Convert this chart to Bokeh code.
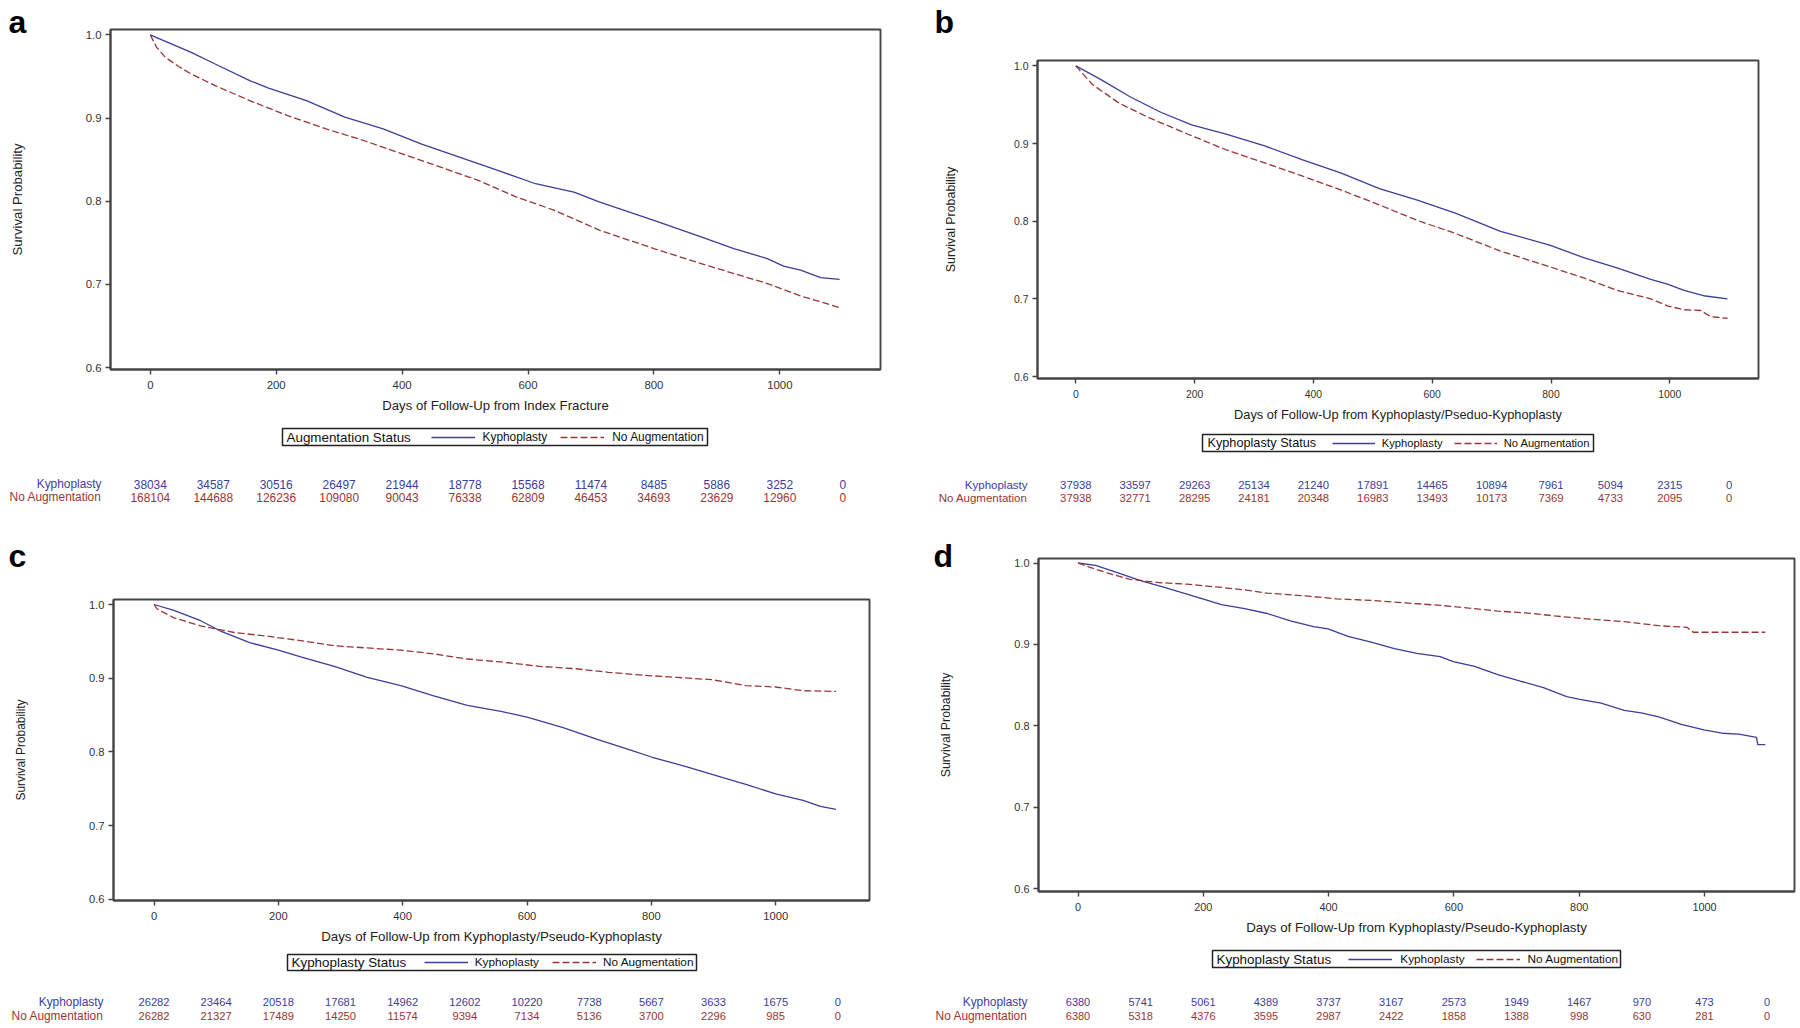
import os
import math
from bokeh.plotting import figure
from bokeh.models import (Range1d, FixedTicker, PrintfTickFormatter, Legend, LegendItem)
from bokeh.layouts import row, column
from bokeh.embed import file_html
from bokeh.resources import INLINE
from bokeh.core.properties import value

# ---------------- data ----------------
x_ticks = [0, 200, 400, 600, 800, 1000]
y_ticks = [0.6, 0.7, 0.8, 0.9, 1.0]
risk_days = [0, 100, 200, 300, 400, 500, 600, 700, 800, 900, 1000, 1100]
series_names = ["Kyphoplasty", "No Augmentation"]
y_label = "Survival Probability"

# Panel a
a_kyph_days = [0, 25, 65, 103, 158, 188, 248, 309, 370, 430, 491, 552, 612, 673, 714, 800, 875, 927, 980, 1006, 1033, 1065, 1095]
a_kyph_surv = [1.0, 0.992, 0.979, 0.965, 0.945, 0.936, 0.921, 0.901, 0.887, 0.869, 0.853, 0.837, 0.821, 0.811, 0.799, 0.777, 0.757, 0.743, 0.731, 0.722, 0.717, 0.708, 0.706]
a_noaug_days = [0, 10, 24, 45, 65, 103, 158, 218, 279, 339, 400, 461, 521, 582, 642, 714, 800, 875, 927, 980, 1033, 1065, 1095]
a_noaug_surv = [1.0, 0.985, 0.973, 0.962, 0.953, 0.939, 0.921, 0.903, 0.887, 0.873, 0.857, 0.841, 0.825, 0.805, 0.789, 0.765, 0.743, 0.725, 0.713, 0.701, 0.686, 0.679, 0.672]
a_risk_kyph = [38034, 34587, 30516, 26497, 21944, 18778, 15568, 11474, 8485, 5886, 3252, 0]
a_risk_noaug = [168104, 144688, 126236, 109080, 90043, 76338, 62809, 46453, 34693, 23629, 12960, 0]

# Panel b
b_kyph_days = [0, 41, 92, 144, 195, 253, 318, 382, 447, 511, 575, 640, 715, 799, 855, 911, 968, 996, 1024, 1057, 1097]
b_kyph_surv = [1.0, 0.983, 0.960, 0.940, 0.924, 0.912, 0.897, 0.879, 0.862, 0.842, 0.827, 0.810, 0.787, 0.769, 0.753, 0.740, 0.725, 0.719, 0.711, 0.704, 0.700]
b_noaug_days = [0, 28, 73, 124, 189, 253, 318, 382, 447, 511, 575, 640, 715, 799, 855, 911, 968, 996, 1024, 1052, 1069, 1097]
b_noaug_surv = [1.0, 0.976, 0.952, 0.933, 0.912, 0.892, 0.875, 0.858, 0.840, 0.821, 0.801, 0.784, 0.7615, 0.741, 0.727, 0.711, 0.700, 0.691, 0.686, 0.685, 0.677, 0.675]
b_risk_kyph = [37938, 33597, 29263, 25134, 21240, 17891, 14465, 10894, 7961, 5094, 2315, 0]
b_risk_noaug = [37938, 32771, 28295, 24181, 20348, 16983, 13493, 10173, 7369, 4733, 2095, 0]

# Panel c
c_kyph_days = [0, 32, 75, 107, 155, 200, 236, 290, 343, 397, 450, 504, 558, 600, 658, 713, 768, 800, 860, 915, 952, 1000, 1044, 1072, 1097]
c_kyph_surv = [1.0, 0.992, 0.978, 0.964, 0.948, 0.938, 0.929, 0.916, 0.901, 0.890, 0.876, 0.863, 0.855, 0.847, 0.833, 0.817, 0.802, 0.793, 0.779, 0.765, 0.756, 0.743, 0.734, 0.726, 0.722]
c_noaug_days = [0, 5, 32, 75, 129, 182, 236, 290, 343, 397, 450, 504, 558, 621, 676, 731, 787, 842, 897, 952, 1000, 1044, 1097]
c_noaug_surv = [1.0, 0.994, 0.982, 0.971, 0.962, 0.957, 0.951, 0.944, 0.941, 0.938, 0.933, 0.926, 0.922, 0.916, 0.913, 0.908, 0.904, 0.901, 0.898, 0.890, 0.888, 0.883, 0.882]
c_risk_kyph = [26282, 23464, 20518, 17681, 14962, 12602, 10220, 7738, 5667, 3633, 1675, 0]
c_risk_noaug = [26282, 21327, 17489, 14250, 11574, 9394, 7134, 5136, 3700, 2296, 985, 0]

# Panel d
d_kyph_days = [0, 28, 64, 101, 138, 199, 229, 266, 302, 339, 376, 399, 431, 468, 505, 541, 578, 599, 633, 670, 706, 743, 780, 799, 835, 872, 899, 927, 963, 999, 1028, 1055, 1083, 1085, 1097]
d_kyph_surv = [1.0, 0.997, 0.988, 0.978, 0.970, 0.956, 0.949, 0.944, 0.938, 0.929, 0.922, 0.919, 0.910, 0.903, 0.895, 0.889, 0.885, 0.879, 0.873, 0.863, 0.855, 0.847, 0.836, 0.833, 0.828, 0.819, 0.816, 0.811, 0.802, 0.795, 0.791, 0.790, 0.786, 0.777, 0.777]
d_noaug_days = [0, 18, 46, 83, 129, 174, 229, 266, 302, 358, 413, 468, 523, 578, 633, 670, 725, 761, 817, 872, 927, 972, 982, 1097]
d_noaug_surv = [1.0, 0.995, 0.988, 0.980, 0.976, 0.974, 0.970, 0.967, 0.963, 0.960, 0.956, 0.954, 0.951, 0.948, 0.944, 0.941, 0.938, 0.935, 0.931, 0.928, 0.923, 0.921, 0.915, 0.915]
d_risk_kyph = [6380, 5741, 5061, 4389, 3737, 3167, 2573, 1949, 1467, 970, 473, 0]
d_risk_noaug = [6380, 5318, 4376, 3595, 2987, 2422, 1858, 1388, 998, 630, 281, 0]

# ---------------- style ----------------
BLUE = "#3d3d9b"
RED = "#9a3535"
AX = "#444444"
TXT = "#222222"
DASH = "7 3"


def _has_font(part):
    for d in ["/usr/share/fonts", "/usr/local/share/fonts",
              os.path.expanduser("~/.fonts"), os.path.expanduser("~/.local/share/fonts")]:
        if not os.path.isdir(d):
            continue
        for _, _, files in os.walk(d):
            for f in files:
                if part in f.lower().replace(" ", "").replace("-", "").replace("_", ""):
                    return True
    return False


if _has_font("liberationsansnarrow"):
    F, K = "Liberation Sans Narrow", 1.0
else:
    F, K = "Liberation Sans", 0.85


def fs(v):
    return "%.1fpx" % (v * K)


def blank_fig(w, h, x0, x1, ytop, ybot):
    p = figure(width=w, height=h, x_range=Range1d(x0, x1), y_range=Range1d(ybot, ytop),
               output_backend="svg", toolbar_location=None, title=None,
               x_axis_location=None, y_axis_location=None,
               min_border_left=0, min_border_right=0, min_border_top=0, min_border_bottom=0)
    p.outline_line_color = None
    p.grid.visible = False
    p.background_fill_color = "white"
    p.border_fill_color = "white"
    if "frame_align" in p.properties():
        p.frame_align = False
    return p


# layout geometry in page pixels
panels = [
    dict(letter="a", letter_x=8, letter_mid=21, region=(0, 900, 0, 522), strip_r=40, split=420,
         frame=(110, 880, 29, 369), x0=149.8, ppd=0.6295, y1=34.4, y06=367.0, ylab_x=17,
         xlabel="Days of Follow-Up from Index Fracture", ltitle="Augmentation Status",
         box=(282, 707, 428, 445), title_x=286, g1=430.5, gw=44, ls=8, sp=13,
         r1=483.5, r2=496.7, rl=101,
         f_tick=13.4, f_ax=15.5, f_ylab=15.5, f_lt=15.8, f_ll=14.0, f_rl=14.0, f_rn=14.0,
         data=(a_kyph_days, a_kyph_surv, a_noaug_days, a_noaug_surv, a_risk_kyph, a_risk_noaug)),
    dict(letter="b", letter_x=934, letter_mid=21, region=(900, 1798, 0, 522), strip_r=975, split=428,
         frame=(1037, 1758, 60, 378), x0=1075.3, ppd=0.594, y1=65.4, y06=376.0, ylab_x=950,
         xlabel="Days of Follow-Up from Kyphoplasty/Pseduo-Kyphoplasty", ltitle="Kyphoplasty Status",
         box=(1202, 1593, 434, 451), title_x=1207, g1=1331.7, gw=43, ls=7, sp=11,
         r1=484.3, r2=497.5, rl=1027,
         f_tick=12.2, f_ax=15.0, f_ylab=14.6, f_lt=14.9, f_ll=13.2, f_rl=13.5, f_rn=13.3,
         data=(b_kyph_days, b_kyph_surv, b_noaug_days, b_noaug_surv, b_risk_kyph, b_risk_noaug)),
    dict(letter="c", letter_x=8, letter_mid=555, region=(0, 900, 522, 1026), strip_r=45, split=948,
         frame=(113, 869, 599, 900), x0=153.5, ppd=0.6217, y1=604.0, y06=898.7, ylab_x=20,
         xlabel="Days of Follow-Up from Kyphoplasty/Pseudo-Kyphoplasty", ltitle="Kyphoplasty Status",
         box=(287, 696, 954, 970), title_x=291, g1=423.7, gw=44, ls=7, sp=13,
         r1=1001.7, r2=1015.0, rl=103,
         f_tick=13.2, f_ax=15.7, f_ylab=14.0, f_lt=15.8, f_ll=13.9, f_rl=14.0, f_rn=13.2,
         data=(c_kyph_days, c_kyph_surv, c_noaug_days, c_noaug_surv, c_risk_kyph, c_risk_noaug)),
    dict(letter="d", letter_x=933, letter_mid=555, region=(900, 1798, 522, 1026), strip_r=975, split=944,
         frame=(1038, 1794, 558, 891), x0=1077.5, ppd=0.6265, y1=562.5, y06=888.3, ylab_x=945,
         xlabel="Days of Follow-Up from Kyphoplasty/Pseudo-Kyphoplasty", ltitle="Kyphoplasty Status",
         box=(1212, 1620, 950, 967), title_x=1216, g1=1348.3, gw=44, ls=8, sp=11,
         r1=1001.0, r2=1015.7, rl=1027,
         f_tick=12.8, f_ax=15.7, f_ylab=14.5, f_lt=15.8, f_ll=13.9, f_rl=14.0, f_rn=13.0,
         data=(d_kyph_days, d_kyph_surv, d_noaug_days, d_noaug_surv, d_risk_kyph, d_risk_noaug)),
]


def build(c):
    RL, RR, RT, RB = c["region"]
    FL, FR, FT, FB = c["frame"]
    SR, SP = c["strip_r"], c["split"]
    kd, ks, nd, ns, rk, rn = c["data"]
    ppu = (c["y06"] - c["y1"]) / 0.4

    # ---- strip with panel letter and y-axis title ----
    strip = blank_fig(SR - RL, SP - RT, RL, SR, RT, SP)
    strip.text(x=[c["letter_x"]], y=[c["letter_mid"]], text=[c["letter"]],
               text_font=value("Liberation Sans"), text_font_style="bold",
               text_font_size=value("32px"), text_color="#000000",
               text_baseline="middle", text_align="left")
    strip.text(x=[c["ylab_x"]], y=[(FT + FB) / 2.0], text=[y_label], angle=math.pi / 2,
               text_font=value(F), text_font_size=value(fs(c["f_ylab"])), text_color=TXT,
               text_baseline="middle", text_align="center")

    # ---- main survival plot ----
    xr = Range1d((FL - c["x0"]) / c["ppd"], (FR - c["x0"]) / c["ppd"])
    yr = Range1d(0.6 - (FB - c["y06"]) / ppu, 1.0 + (c["y1"] - FT) / ppu)
    p = figure(width=RR - SR, height=SP - RT, x_range=xr, y_range=yr, output_backend="svg",
               toolbar_location=None, title=None,
               min_border_left=FL - SR, min_border_right=RR - FR,
               min_border_top=FT - RT, min_border_bottom=SP - FB)
    if "frame_align" in p.properties():
        p.frame_align = False
    p.background_fill_color = "white"
    p.border_fill_color = "white"
    p.grid.visible = False
    p.outline_line_color = AX
    p.outline_line_width = 1.9
    p.xaxis.ticker = FixedTicker(ticks=x_ticks)
    p.yaxis.ticker = FixedTicker(ticks=y_ticks)
    p.yaxis.formatter = PrintfTickFormatter(format="%.1f")
    for ax in (p.xaxis[0], p.yaxis[0]):
        ax.major_tick_out = 5
        ax.major_tick_in = 0
        ax.minor_tick_out = 0
        ax.minor_tick_in = 0
        ax.major_tick_line_color = AX
        ax.major_tick_line_width = 1.4
        ax.axis_line_color = AX
        ax.axis_line_width = 1.9
        ax.major_label_text_font = F
        ax.major_label_text_font_size = fs(c["f_tick"])
        ax.major_label_text_color = "#333333"
        ax.axis_label_text_font = F
        ax.axis_label_text_font_style = "normal"
        ax.axis_label_text_color = TXT
    p.xaxis.axis_label = c["xlabel"]
    p.xaxis.axis_label_text_font_size = fs(c["f_ax"])
    p.xaxis.major_label_standoff = 6
    p.xaxis.axis_label_standoff = 6
    p.yaxis.major_label_standoff = 4
    p.line(kd, ks, line_color=BLUE, line_width=1.3)
    p.line(nd, ns, line_color=RED, line_width=1.3, line_dash=DASH)

    # ---- legend + numbers at risk ----
    b = blank_fig(RR - RL, RB - SP, (RL - c["x0"]) / c["ppd"], (RR - c["x0"]) / c["ppd"], SP, RB)
    b.extra_x_ranges = {"px": Range1d(RL, RR)}
    bl, br, bt, bb = c["box"]
    cy = (bt + bb) / 2.0
    b.quad(left=[bl], right=[br], top=[bt], bottom=[bb], x_range_name="px",
           fill_color=None, line_color="#222222", line_width=1.5)
    b.text(x=[c["title_x"]], y=[cy], text=[c["ltitle"]], x_range_name="px",
           text_font=value(F), text_font_size=value(fs(c["f_lt"])), text_color="#111111",
           text_baseline="middle", text_align="left")
    # legend keys: same styles as the curves (their points lie outside this strip's view)
    off = [RB + 1000, RB + 1000]
    lk = b.line(x=[0, 1], y=off, line_color=BLUE, line_width=1.3)
    ln = b.line(x=[0, 1], y=off, line_color=RED, line_width=1.3, line_dash=DASH)
    leg = Legend(items=[LegendItem(label=series_names[0], renderers=[lk]),
                        LegendItem(label=series_names[1], renderers=[ln])],
                 orientation="horizontal", location=(c["g1"] - RL, RB - (cy + 8)),
                 padding=0, margin=0, spacing=int(c["sp"]), glyph_width=int(c["gw"]),
                 glyph_height=16, label_height=16, label_standoff=int(c["ls"]),
                 label_text_font=F, label_text_font_size=fs(c["f_ll"]), label_text_color="#111111",
                 border_line_alpha=0, background_fill_alpha=0)
    b.add_layout(leg)
    for counts, ry, colr, name in ((rk, c["r1"], BLUE, series_names[0]),
                                   (rn, c["r2"], RED, series_names[1])):
        b.text(x=risk_days, y=[ry] * len(risk_days), text=[str(v) for v in counts],
               text_font=value(F), text_font_size=value(fs(c["f_rn"])), text_color=colr,
               text_align="center", text_baseline="middle")
        b.text(x=[c["rl"]], y=[ry], text=[name], x_range_name="px",
               text_font=value(F), text_font_size=value(fs(c["f_rl"])), text_color=colr,
               text_align="right", text_baseline="middle")

    return column(row(strip, p), b)


parts = [build(c) for c in panels]
layout = column(row(parts[0], parts[1]), row(parts[2], parts[3]))
open("out.html", "w").write(file_html(layout, INLINE))
